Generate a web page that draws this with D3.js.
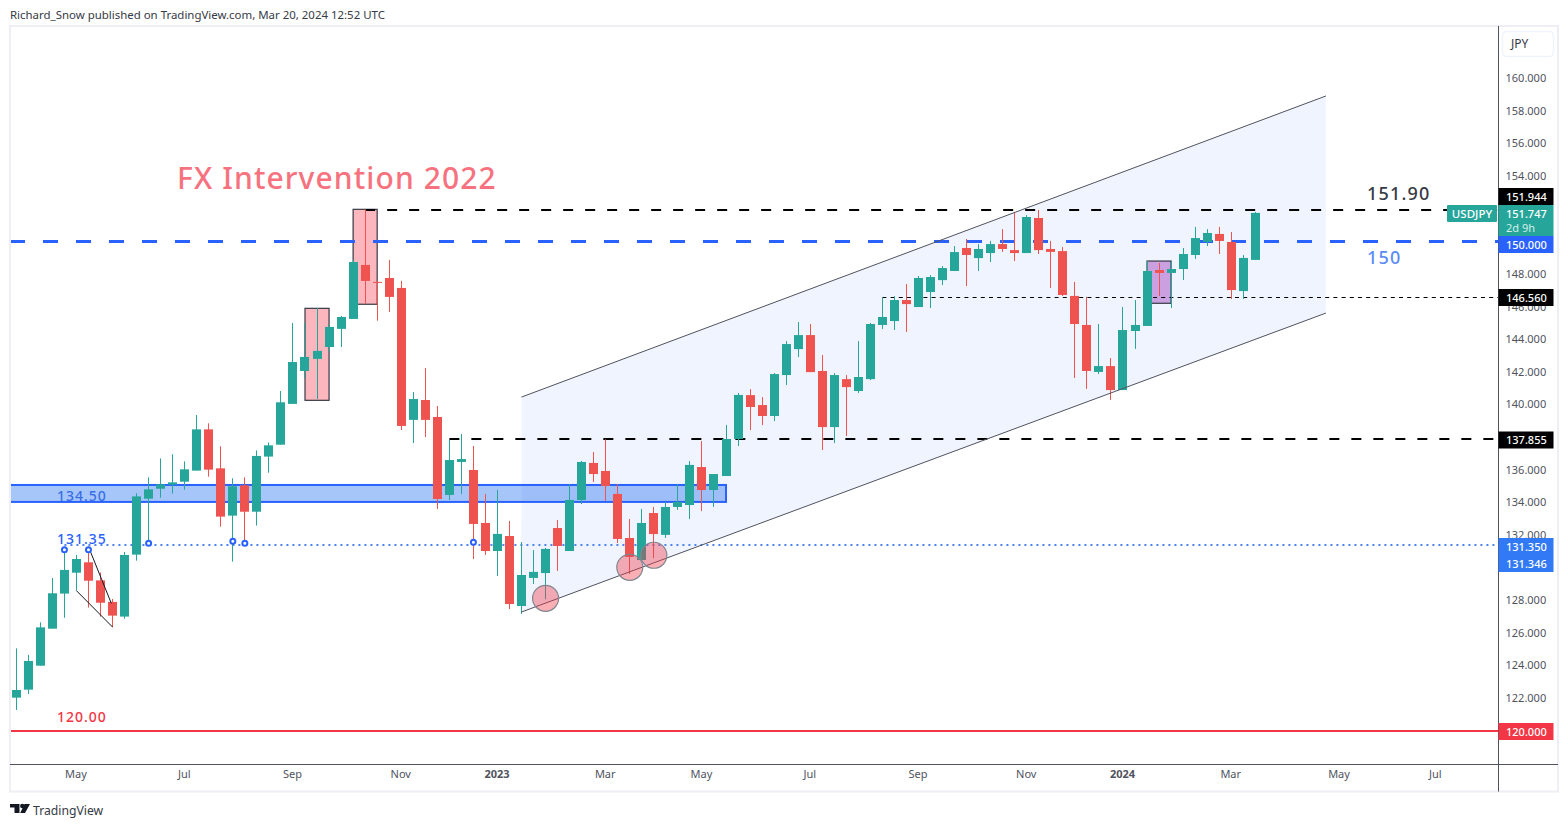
<!DOCTYPE html>
<html>
<head>
<meta charset="utf-8">
<title>USDJPY</title>
<script src="https://cdn.jsdelivr.net/npm/d3@7"></script>
<style>
	html, body { margin: 0; padding: 0; background: #fff; }
	svg { display: block; font-family: "Noto Sans", sans-serif; }
</style>
</head>
<body>
<div id="chart"></div>
<script>
// weekly candles
var opens = [122.02,122.51,123.98,126.25,128.40,129.68,130.32,129.21,127.89,126.99,130.79,134.22,134.83,135.08,135.26,135.94,138.47,136.08,133.18,135.04,133.42,136.80,137.53,140.03,142.05,142.79,143.52,144.63,145.24,148.55,147.51,147.75,147.14,139.05,140.27,139.23,134.45,136.47,135.98,132.73,131.01,131.93,127.64,129.36,129.66,132.42,131.01,134.14,136.41,135.92,134.51,131.81,130.46,133.34,132.00,133.71,133.83,136.16,134.75,135.61,137.88,140.57,139.96,139.29,141.80,143.39,144.25,142.05,138.61,141.55,140.82,141.55,144.87,145.11,146.40,145.97,146.89,147.62,148.18,149.59,148.97,149.28,149.83,149.46,149.28,151.43,149.53,149.40,146.65,144.87,141.99,142.35,140.88,144.50,144.81,148.24,148.06,148.30,149.16,149.96,150.45,149.96,146.95,148.86];
var highs = [125.04,124.64,126.64,129.36,131.28,130.77,131.28,129.70,128.07,130.95,134.55,135.53,136.69,136.94,136.51,139.35,138.84,137.43,135.47,135.53,137.18,137.67,140.82,144.99,144.99,145.91,144.91,145.42,148.86,151.95,147.55,148.86,147.57,140.76,142.23,139.90,137.82,138.19,137.45,134.51,134.75,132.85,131.56,131.07,131.20,132.91,135.12,136.53,137.08,137.86,135.12,132.97,133.59,133.71,134.02,135.12,136.53,137.75,135.73,138.74,140.70,140.94,140.45,141.92,143.88,145.05,144.93,143.03,141.92,141.80,143.88,144.99,146.58,146.64,147.38,147.87,147.93,148.48,149.71,150.14,149.83,150.02,150.75,151.80,151.61,151.92,150.02,149.65,147.51,146.59,144.93,142.84,145.97,146.40,148.79,148.67,148.79,149.59,150.88,150.75,150.88,150.57,149.16,151.80];
var lows = [121.26,122.24,123.98,126.25,126.92,128.58,127.54,126.99,126.33,126.86,130.42,131.48,134.28,134.53,134.77,135.94,135.57,132.50,130.36,131.48,132.57,135.81,137.53,140.03,141.62,140.33,143.22,143.52,145.24,146.16,145.13,145.67,138.43,137.63,138.00,133.59,134.14,134.51,130.52,130.77,129.48,127.45,127.15,128.99,128.05,129.79,131.01,133.89,135.24,134.08,131.50,129.60,130.46,130.58,131.81,133.53,132.97,133.46,133.71,135.61,137.45,138.43,138.73,138.98,141.19,142.90,141.98,137.20,137.63,138.06,140.70,141.49,144.62,144.56,144.44,145.97,145.91,147.32,148.18,147.26,148.18,148.73,149.35,148.79,149.28,149.22,147.14,146.65,141.62,140.95,141.86,140.27,140.88,143.40,144.81,146.65,145.91,147.63,148.92,149.71,149.22,146.46,146.46,148.86];
var closes = [122.49,124.27,126.33,128.42,129.85,130.52,129.19,127.84,127.05,130.77,134.36,134.79,135.10,135.22,136.02,138.47,136.00,133.12,134.98,133.42,136.84,137.49,140.13,142.60,142.91,143.28,144.75,145.36,148.73,147.57,147.46,146.59,138.68,140.33,139.05,134.20,136.59,136.65,132.67,131.01,132.06,127.76,129.54,129.73,131.14,131.32,134.14,136.47,135.73,135.00,131.75,130.65,132.73,132.05,133.71,134.02,136.29,134.75,135.73,137.88,140.58,139.84,139.29,141.86,143.70,144.25,141.98,138.61,141.80,141.06,141.68,144.93,145.36,146.40,146.15,147.75,147.81,148.36,149.34,149.16,149.53,149.83,149.53,149.28,151.49,149.46,149.35,146.71,144.93,142.05,142.35,140.88,144.56,144.87,148.18,148.06,148.30,149.22,150.20,150.51,150.02,147.01,148.98,151.74];

var priceTicks = [160,158,156,154,148,146,144,142,140,136,134,132,128,126,124,122];
var timeTickIndex = [5,14,23,32,40,49,57,66,75,84,92,101,110,118];
var timeTickLabels = ["May","Jul","Sep","Nov","2023","Mar","May","Jul","Sep","Nov","2024","Mar","May","Jul"];

// drawings, in [candle index, price]
var channelTop = [[42,140.45],[108.87,158.91]];
var channelBottom = [[42,127.27],[108.87,145.60]];
var zoneLow = 134.02, zoneHigh = 135.06, zoneEnd = 59;
var pinkBoxes = [[24,26,140.25,145.89],[28,30,146.14,151.96]];
var purpleBox = [94,96,146.2,148.79];
var pinkCircles = [[44,128.11],[51,130.01],[53,130.75]];
var pivotDots = [[4,131.09],[6,131.09],[11,131.48],[18,131.61],[19,131.48],[38,131.55]];
var wedgeLines = [[[6,131.27],[7.9,127.8]],[[5,128.58],[8,126.35]]];

var width = 1568, height = 827;
var left = 10, right = 1498.5, top_ = 26, axisY = 764.5, frameR = 1558, frameB = 791.5;

var x = d3.scaleLinear().domain([0,103]).range([16.3,1255.3]);
var y = d3.scaleLinear().domain([120,160]).range([730.6,78.2]);
var up = "#26a69a", down = "#ef5350", blue = "#2962ff";

var svg = d3.select("#chart").append("svg").attr("width",width).attr("height",height);

function crisp(v) { return Math.round(v - 0.5) + 0.5; }

svg.append("text").attr("x",10).attr("y",19).attr("font-size",11.45).attr("fill","#363a45")
	.text("Richard_Snow published on TradingView.com, Mar 20, 2024 12:52 UTC");

var line = d3.line().x(function(d){ return x(d[0]); }).y(function(d){ return y(d[1]); });

// channel
svg.append("path").attr("fill","rgba(41,98,255,0.07)")
	.attr("d", line(channelTop.concat(channelBottom.slice().reverse())) + "Z");

// 134.50 zone
svg.append("rect").attr("x",left).attr("width",x(zoneEnd)-left)
	.attr("y",y(zoneHigh)).attr("height",y(zoneLow)-y(zoneHigh))
	.attr("fill","rgba(33,110,240,0.4)").attr("stroke",blue).attr("stroke-width",2);

// boxes
function drawBox(b, fill) {
	svg.append("rect").attr("x",x(b[0])).attr("width",x(b[1])-x(b[0]))
		.attr("y",y(b[3])).attr("height",y(b[2])-y(b[3]))
		.attr("fill",fill).attr("stroke","#363a45").attr("stroke-width",1.2);
}
pinkBoxes.forEach(function(b){ drawBox(b,"#fbb6be"); });
drawBox(purpleBox,"#cba0e0");

// horizontal levels
function level(price, from, color, w, dash) {
	var ly = w % 2 == 0 ? Math.round(y(price)) : crisp(y(price));
	svg.append("line").attr("x1",from).attr("x2",right)
		.attr("y1",ly).attr("y2",ly)
		.attr("stroke",color).attr("stroke-width",w).attr("stroke-dasharray",dash);
}
level(151.944, x(29), "#000", 2, "10 12");
level(137.855, x(36), "#000", 2, "10 12");
level(146.56, x(72), "#000", 1, "4 4.2");
level(150, left, blue, 3, "15 18");
level(131.35, x(4), "#4d84f5", 2, "2 4");
level(120, left, "#f23645", 2, null);

// candles
var candles = svg.append("g");
d3.range(opens.length).forEach(function(i) {
	var col = closes[i] >= opens[i] ? up : down;
	var cx = crisp(x(i));
	candles.append("line").attr("x1",cx).attr("x2",cx).attr("y1",y(highs[i])).attr("y2",y(lows[i]))
		.attr("stroke",col).attr("stroke-width",1);
	var t = y(Math.max(opens[i],closes[i])), b = y(Math.min(opens[i],closes[i]));
	candles.append("rect").attr("x",cx-4.5).attr("width",9).attr("y",t).attr("height",Math.max(b-t,1)).attr("fill",col);
});

// channel edges
svg.append("path").attr("d",line(channelTop)).attr("stroke","#50535e").attr("fill","none");
svg.append("path").attr("d",line(channelBottom)).attr("stroke","#50535e").attr("fill","none");

wedgeLines.forEach(function(l){
	svg.append("path").attr("d",line(l)).attr("stroke","#131722").attr("fill","none");
});

pinkCircles.forEach(function(c){
	svg.append("circle").attr("cx",x(c[0])).attr("cy",y(c[1])).attr("r",13)
		.attr("fill","rgba(242,54,69,0.4)").attr("stroke","#808690").attr("stroke-width",1.2);
});
pivotDots.forEach(function(c){
	svg.append("circle").attr("cx",x(c[0])).attr("cy",y(c[1])).attr("r",2.5)
		.attr("fill","#fff").attr("stroke",blue).attr("stroke-width",2);
});

// chart notes
function note(txt, px, py, size, color, spacing) {
	svg.append("text").attr("x",px).attr("y",py).attr("font-weight",500)
		.attr("letter-spacing",spacing).attr("font-size",size).attr("fill",color).text(txt);
}
note("FX Intervention 2022", 177, 189, 30, "#f7727f", 1.1);
note("151.90", 1367, 200, 18, "#363a45", 1.2);
note("150", 1367, 264, 18, "#5b8cf5", 1.2);
note("134.50", 57, 501, 14, "#3a6ee8", 1);
note("131.35", 57, 544, 14, "#2962ff", 1);
note("120.00", 57, 722, 14, "#f23645", 1);

// frame
svg.append("rect").attr("x",left).attr("y",top_).attr("width",frameR-left).attr("height",frameB-top_)
	.attr("fill","none").attr("stroke","#eeeef4").attr("stroke-width",2);
svg.append("rect").attr("x",right+4).attr("y",top_+5.5).attr("width",51).attr("height",25).attr("rx",4)
	.attr("fill","#fff").attr("stroke","#f0f3fa").attr("stroke-width",1.5);
svg.append("text").attr("x",1511).attr("y",48).attr("font-size",12).attr("fill","#363a45").text("JPY");

// axes
var yAxis = svg.append("g").attr("transform","translate("+right+",0)")
	.call(d3.axisRight(y).tickValues(priceTicks).tickSize(0).tickPadding(7).tickFormat(d3.format(".3f")));
yAxis.select(".domain").remove();
yAxis.selectAll("text").attr("font-size",11).attr("font-family","Noto Sans").attr("fill","#50535e");

var xAxis = svg.append("g").attr("transform","translate(-1,"+axisY+")")
	.call(d3.axisBottom(x).tickValues(timeTickIndex).tickSize(0).tickPadding(6)
		.tickFormat(function(d,i){ return timeTickLabels[i]; }));
xAxis.select(".domain").remove();
xAxis.selectAll("text").attr("font-size",11).attr("font-family","Noto Sans").attr("fill","#50535e")
	.attr("font-weight",function(d,i){ return timeTickLabels[i].length==4 ? "bold" : "normal"; });

svg.append("line").attr("x1",right).attr("x2",right).attr("y1",top_).attr("y2",frameB).attr("stroke","#50535e");
svg.append("line").attr("x1",left).attr("x2",frameR).attr("y1",axisY).attr("y2",axisY).attr("stroke","#50535e");

// price labels on the scale
function priceLabel(txt, y0, y1, fill) {
	svg.append("rect").attr("x",right).attr("y",y0).attr("width",55).attr("height",y1-y0).attr("fill",fill);
	svg.append("text").attr("x",right+7.5).attr("y",y0+12.5).attr("font-size",11).attr("font-weight",500)
		.attr("fill","#fff").text(txt);
}
priceLabel("151.944",188,205,"#000");
priceLabel("151.747",205,236,up);
svg.append("text").attr("x",right+7.5).attr("y",232).attr("font-size",11).attr("fill","#d4eeeb").text("2d 9h");
priceLabel("150.000",236,253,blue);
priceLabel("146.560",289,306,"#000");
priceLabel("137.855",431.5,448.5,"#000");
priceLabel("131.350",538,555,"#3179f5");
priceLabel("131.346",555,572,"#3179f5");
priceLabel("120.000",723,740,"#f23645");

svg.append("rect").attr("x",1447).attr("y",205).attr("width",50).attr("height",17).attr("rx",1).attr("fill",up);
svg.append("text").attr("x",1472).attr("y",217.5).attr("text-anchor","middle").attr("font-size",11.5).attr("font-weight",500)
	.attr("fill","#fff").text("USDJPY");

// logo
svg.append("path").attr("fill","#131722").attr("d","M10 804h9.5v9h-5v-5.5h-4.5zM24.5 804h5.5l-5 9h-4.8z");
svg.append("circle").attr("cx",22.3).attr("cy",806).attr("r",2.2).attr("fill","#131722");
svg.append("text").attr("x",33).attr("y",814.5).attr("font-size",12.2).attr("fill","#363a45").text("TradingView");
</script>
</body>
</html>
